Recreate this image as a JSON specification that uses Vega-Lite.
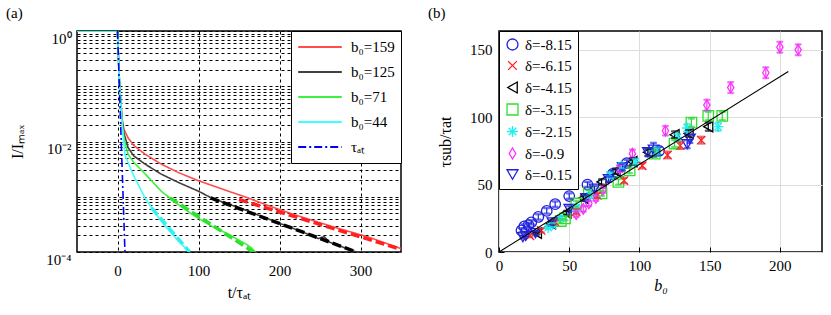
{
  "$schema": "https://vega.github.io/schema/vega-lite/v6.json",
  "padding": {"left": 5, "top": 4, "right": 10, "bottom": 5},
  "spacing": 98,
  "bounds": "flush",
  "resolve": {
    "scale": {"color": "independent", "strokeDash": "independent", "shape": "independent", "stroke": "independent", "x": "independent", "y": "independent"},
    "legend": {"color": "independent", "strokeDash": "independent", "shape": "independent", "stroke": "independent"}
  },
  "datasets": {
    "curves": [
      {"s": "b₀=159", "t": -50, "I": 1}, {"s": "b₀=159", "t": 0, "I": 1}, {"s": "b₀=159", "t": 2, "I": 0.158}, {"s": "b₀=159", "t": 4, "I": 0.05}, {"s": "b₀=159", "t": 6, "I": 0.024}, {"s": "b₀=159", "t": 8, "I": 0.0166}, {"s": "b₀=159", "t": 13, "I": 0.0117}, {"s": "b₀=159", "t": 20, "I": 0.0085}, {"s": "b₀=159", "t": 34, "I": 0.0059}, {"s": "b₀=159", "t": 54, "I": 0.0039}, {"s": "b₀=159", "t": 75, "I": 0.00275}, {"s": "b₀=159", "t": 100, "I": 0.00195}, {"s": "b₀=159", "t": 137, "I": 0.00126}, {"s": "b₀=159", "t": 157, "I": 0.001}, {"s": "b₀=159", "t": 190, "I": 0.00066}, {"s": "b₀=159", "t": 219, "I": 0.00047}, {"s": "b₀=159", "t": 268, "I": 0.00028}, {"s": "b₀=159", "t": 310, "I": 0.000186}, {"s": "b₀=159", "t": 350, "I": 0.000115},
      {"s": "b₀=125", "t": -50, "I": 1}, {"s": "b₀=125", "t": 0, "I": 1}, {"s": "b₀=125", "t": 2, "I": 0.158}, {"s": "b₀=125", "t": 4, "I": 0.05}, {"s": "b₀=125", "t": 6, "I": 0.022}, {"s": "b₀=125", "t": 8, "I": 0.0141}, {"s": "b₀=125", "t": 13, "I": 0.0078}, {"s": "b₀=125", "t": 20, "I": 0.0055}, {"s": "b₀=125", "t": 34, "I": 0.0039}, {"s": "b₀=125", "t": 54, "I": 0.00257}, {"s": "b₀=125", "t": 75, "I": 0.00182}, {"s": "b₀=125", "t": 100, "I": 0.00126}, {"s": "b₀=125", "t": 116, "I": 0.00095}, {"s": "b₀=125", "t": 157, "I": 0.00058}, {"s": "b₀=125", "t": 198, "I": 0.00034}, {"s": "b₀=125", "t": 227, "I": 0.000235}, {"s": "b₀=125", "t": 248, "I": 0.000175}, {"s": "b₀=125", "t": 255, "I": 0.00019}, {"s": "b₀=125", "t": 262, "I": 0.00015}, {"s": "b₀=125", "t": 280, "I": 0.00012}, {"s": "b₀=125", "t": 295, "I": 0.0001},
      {"s": "b₀=71", "t": -50, "I": 1}, {"s": "b₀=71", "t": 0, "I": 1}, {"s": "b₀=71", "t": 2, "I": 0.158}, {"s": "b₀=71", "t": 4, "I": 0.05}, {"s": "b₀=71", "t": 6, "I": 0.02}, {"s": "b₀=71", "t": 8, "I": 0.0112}, {"s": "b₀=71", "t": 13, "I": 0.0059}, {"s": "b₀=71", "t": 20, "I": 0.0042}, {"s": "b₀=71", "t": 34, "I": 0.0026}, {"s": "b₀=71", "t": 54, "I": 0.00126}, {"s": "b₀=71", "t": 75, "I": 0.00072}, {"s": "b₀=71", "t": 95, "I": 0.00045}, {"s": "b₀=71", "t": 116, "I": 0.000295}, {"s": "b₀=71", "t": 137, "I": 0.00021}, {"s": "b₀=71", "t": 160, "I": 0.000135}, {"s": "b₀=71", "t": 165, "I": 0.00012}, {"s": "b₀=71", "t": 170, "I": 0.0001},
      {"s": "b₀=44", "t": -50, "I": 1}, {"s": "b₀=44", "t": 0, "I": 1}, {"s": "b₀=44", "t": 2, "I": 0.158}, {"s": "b₀=44", "t": 4, "I": 0.05}, {"s": "b₀=44", "t": 6, "I": 0.0178}, {"s": "b₀=44", "t": 9, "I": 0.0059}, {"s": "b₀=44", "t": 15, "I": 0.00355}, {"s": "b₀=44", "t": 21, "I": 0.00224}, {"s": "b₀=44", "t": 34, "I": 0.00095}, {"s": "b₀=44", "t": 54, "I": 0.00036}, {"s": "b₀=44", "t": 75, "I": 0.000158}, {"s": "b₀=44", "t": 89, "I": 0.0001},
      {"s": "τₐₜ", "t": 0, "I": 1}, {"s": "τₐₜ", "t": 9.21, "I": 0.0001}
    ],
    "fits": [
      {"f": "159", "t": 150, "I": 0.00089}, {"f": "159", "t": 350, "I": 0.000112},
      {"f": "125", "t": 115, "I": 0.00095}, {"f": "125", "t": 295, "I": 0.0001},
      {"f": "71", "t": 65, "I": 0.00095}, {"f": "71", "t": 168, "I": 0.0001},
      {"f": "44", "t": 42, "I": 0.00063}, {"f": "44", "t": 89, "I": 0.0001}
    ],
    "points": [
      {"d": "δ=-8.15", "b": 16, "tau": 16, "lo": 14.5, "hi": 17.5}, {"d": "δ=-8.15", "b": 18, "tau": 19, "lo": 17.5, "hi": 20.5}, {"d": "δ=-8.15", "b": 21, "tau": 20, "lo": 18.5, "hi": 21.5}, {"d": "δ=-8.15", "b": 23, "tau": 22, "lo": 20.5, "hi": 23.5}, {"d": "δ=-8.15", "b": 28, "tau": 26, "lo": 24, "hi": 28}, {"d": "δ=-8.15", "b": 34, "tau": 30.5, "lo": 28.5, "hi": 32.5}, {"d": "δ=-8.15", "b": 40, "tau": 35.5, "lo": 33.5, "hi": 37.5}, {"d": "δ=-8.15", "b": 50, "tau": 41.5, "lo": 39.5, "hi": 43.5}, {"d": "δ=-8.15", "b": 63, "tau": 50, "lo": 48, "hi": 52}, {"d": "δ=-8.15", "b": 81, "tau": 58, "lo": 55.5, "hi": 60.5}, {"d": "δ=-8.15", "b": 91, "tau": 66, "lo": 63.5, "hi": 68.5}, {"d": "δ=-8.15", "b": 114, "tau": 75, "lo": 72, "hi": 78},
      {"d": "δ=-6.15", "b": 22, "tau": 12, "lo": 11, "hi": 13}, {"d": "δ=-6.15", "b": 30, "tau": 16, "lo": 14.5, "hi": 17.5}, {"d": "δ=-6.15", "b": 40, "tau": 22, "lo": 20.5, "hi": 23.5}, {"d": "δ=-6.15", "b": 55, "tau": 30, "lo": 28, "hi": 32}, {"d": "δ=-6.15", "b": 70, "tau": 42, "lo": 40, "hi": 44}, {"d": "δ=-6.15", "b": 89, "tau": 53, "lo": 51, "hi": 55}, {"d": "δ=-6.15", "b": 102, "tau": 64, "lo": 62, "hi": 66}, {"d": "δ=-6.15", "b": 120, "tau": 72, "lo": 69.5, "hi": 74.5}, {"d": "δ=-6.15", "b": 129, "tau": 79, "lo": 76.5, "hi": 81.5}, {"d": "δ=-6.15", "b": 144, "tau": 83, "lo": 80.5, "hi": 85.5},
      {"d": "δ=-4.15", "b": 27, "tau": 14, "lo": 13, "hi": 15}, {"d": "δ=-4.15", "b": 37, "tau": 21, "lo": 19.5, "hi": 22.5}, {"d": "δ=-4.15", "b": 48, "tau": 29, "lo": 27.5, "hi": 30.5}, {"d": "δ=-4.15", "b": 60, "tau": 40, "lo": 38, "hi": 42}, {"d": "δ=-4.15", "b": 73, "tau": 52, "lo": 50, "hi": 54}, {"d": "δ=-4.15", "b": 83, "tau": 60, "lo": 58, "hi": 62}, {"d": "δ=-4.15", "b": 95, "tau": 67, "lo": 64.5, "hi": 69.5}, {"d": "δ=-4.15", "b": 106, "tau": 74, "lo": 71.5, "hi": 76.5}, {"d": "δ=-4.15", "b": 125, "tau": 87, "lo": 84.5, "hi": 89.5}, {"d": "δ=-4.15", "b": 135, "tau": 88, "lo": 85.5, "hi": 90.5}, {"d": "δ=-4.15", "b": 149, "tau": 93, "lo": 90, "hi": 96},
      {"d": "δ=-3.15", "b": 44, "tau": 23, "lo": 21.5, "hi": 24.5}, {"d": "δ=-3.15", "b": 47, "tau": 25, "lo": 23.5, "hi": 26.5}, {"d": "δ=-3.15", "b": 55, "tau": 36, "lo": 34, "hi": 38}, {"d": "δ=-3.15", "b": 64, "tau": 44, "lo": 42, "hi": 46}, {"d": "δ=-3.15", "b": 73, "tau": 43.5, "lo": 41.5, "hi": 45.5}, {"d": "δ=-3.15", "b": 85, "tau": 52, "lo": 50, "hi": 54}, {"d": "δ=-3.15", "b": 93, "tau": 60.5, "lo": 58.5, "hi": 62.5}, {"d": "δ=-3.15", "b": 111, "tau": 73, "lo": 70.5, "hi": 75.5}, {"d": "δ=-3.15", "b": 125, "tau": 80.5, "lo": 78, "hi": 83}, {"d": "δ=-3.15", "b": 137, "tau": 96, "lo": 93, "hi": 99}, {"d": "δ=-3.15", "b": 149, "tau": 101, "lo": 98, "hi": 104}, {"d": "δ=-3.15", "b": 159, "tau": 101, "lo": 98, "hi": 104},
      {"d": "δ=-2.15", "b": 35, "tau": 18, "lo": 17, "hi": 19}, {"d": "δ=-2.15", "b": 38, "tau": 20, "lo": 18.5, "hi": 21.5}, {"d": "δ=-2.15", "b": 44, "tau": 25, "lo": 23.5, "hi": 26.5}, {"d": "δ=-2.15", "b": 55, "tau": 33, "lo": 31, "hi": 35}, {"d": "δ=-2.15", "b": 65, "tau": 42, "lo": 40, "hi": 44}, {"d": "δ=-2.15", "b": 79, "tau": 57, "lo": 55, "hi": 59}, {"d": "δ=-2.15", "b": 87, "tau": 64, "lo": 62, "hi": 66}, {"d": "δ=-2.15", "b": 97, "tau": 67, "lo": 65, "hi": 69}, {"d": "δ=-2.15", "b": 112, "tau": 75, "lo": 72.5, "hi": 77.5}, {"d": "δ=-2.15", "b": 127, "tau": 85, "lo": 82.5, "hi": 87.5}, {"d": "δ=-2.15", "b": 134, "tau": 92, "lo": 89, "hi": 95}, {"d": "δ=-2.15", "b": 156, "tau": 93, "lo": 90, "hi": 96},
      {"d": "δ=-0.9", "b": 55, "tau": 28, "lo": 26, "hi": 30}, {"d": "δ=-0.9", "b": 60, "tau": 32, "lo": 30, "hi": 34}, {"d": "δ=-0.9", "b": 64, "tau": 36, "lo": 34, "hi": 38}, {"d": "δ=-0.9", "b": 69, "tau": 40, "lo": 38, "hi": 42}, {"d": "δ=-0.9", "b": 74, "tau": 46, "lo": 44, "hi": 48}, {"d": "δ=-0.9", "b": 86, "tau": 62, "lo": 59.5, "hi": 64.5}, {"d": "δ=-0.9", "b": 95, "tau": 73, "lo": 70, "hi": 76}, {"d": "δ=-0.9", "b": 118.5, "tau": 90, "lo": 86.5, "hi": 93.5}, {"d": "δ=-0.9", "b": 148, "tau": 109, "lo": 105, "hi": 113}, {"d": "δ=-0.9", "b": 165, "tau": 122, "lo": 118, "hi": 126}, {"d": "δ=-0.9", "b": 190, "tau": 133, "lo": 129, "hi": 137}, {"d": "δ=-0.9", "b": 200, "tau": 152, "lo": 148, "hi": 156}, {"d": "δ=-0.9", "b": 213, "tau": 150, "lo": 146, "hi": 154},
      {"d": "δ=-0.15", "b": 17, "tau": 11, "lo": 10, "hi": 12}, {"d": "δ=-0.15", "b": 19, "tau": 12, "lo": 11, "hi": 13}, {"d": "δ=-0.15", "b": 26, "tau": 14, "lo": 12.5, "hi": 15.5}, {"d": "δ=-0.15", "b": 38, "tau": 22, "lo": 20.5, "hi": 23.5}, {"d": "δ=-0.15", "b": 50, "tau": 32, "lo": 30, "hi": 34}, {"d": "δ=-0.15", "b": 62, "tau": 40, "lo": 38, "hi": 42}, {"d": "δ=-0.15", "b": 68, "tau": 47, "lo": 45, "hi": 49}, {"d": "δ=-0.15", "b": 78, "tau": 54, "lo": 52, "hi": 56}, {"d": "δ=-0.15", "b": 88, "tau": 63, "lo": 60.5, "hi": 65.5}, {"d": "δ=-0.15", "b": 106, "tau": 74, "lo": 71, "hi": 77}, {"d": "δ=-0.15", "b": 110, "tau": 76, "lo": 71, "hi": 81}, {"d": "δ=-0.15", "b": 134, "tau": 80, "lo": 77, "hi": 83}, {"d": "δ=-0.15", "b": 136, "tau": 84, "lo": 81, "hi": 87}
    ],
    "fitline": [{"b": 0, "tau": 0}, {"b": 206, "tau": 134}]
  },
  "hconcat": [
    {
      "title": {"text": "(a)"},
      "width": 324,
      "height": 221,
      "layer": [
        {
          "data": {"name": "curves"},
          "mark": {"type": "line", "strokeWidth": 1.6, "clip": true},
          "encoding": {
            "x": {"field": "t", "type": "quantitative", "title": "t/τₐₜ", "scale": {"domain": [-50, 350], "nice": false},
              "axis": {"values": [0, 100, 200, 300], "grid": true, "gridDash": [3, 3], "gridColor": "black", "gridOpacity": 1, "gridWidth": 1, "ticks": false, "labelPadding": 11, "titlePadding": 6, "labelFlush": false}},
            "y": {"field": "I", "type": "quantitative", "title": "I/Iₘₐₓ", "scale": {"type": "log", "domain": [0.0001, 1], "nice": false},
              "axis": {"values": [0.0001, 0.0002, 0.0003, 0.0004, 0.0005, 0.0006, 0.0007, 0.0008, 0.0009, 0.001, 0.002, 0.003, 0.004, 0.005, 0.006, 0.007, 0.008, 0.009, 0.01, 0.02, 0.03, 0.04, 0.05, 0.06, 0.07, 0.08, 0.09, 0.1, 0.2, 0.3, 0.4, 0.5, 0.6, 0.7, 0.8, 0.9, 1],
                "labelExpr": "datum.value == 1 ? '10⁰' : datum.value == 0.01 ? '10⁻²' : datum.value == 0.0001 ? '10⁻⁴' : ''",
                "labelOverlap": false, "labelFlush": false, "labelBaseline": "top", "grid": true, "gridDash": [3, 3], "gridColor": "black", "gridOpacity": 1, "gridWidth": 1, "ticks": false, "labelPadding": 6, "titlePadding": 20}},
            "color": {"field": "s", "type": "nominal",
              "scale": {"domain": ["b₀=159", "b₀=125", "b₀=71", "b₀=44", "τₐₜ"], "range": ["#ff4d4d", "#404040", "#40f040", "#40ffff", "#0000ff"]},
              "legend": {"title": null, "orient": "top-right", "offset": 0, "fillColor": "white", "strokeColor": "black", "padding": 6, "symbolType": "stroke", "symbolSize": 1900, "symbolStrokeWidth": 2, "labelFontSize": 15, "labelOffset": 8, "rowPadding": 5, "clipHeight": 20}},
            "strokeDash": {"field": "s", "type": "nominal",
              "scale": {"domain": ["b₀=159", "b₀=125", "b₀=71", "b₀=44", "τₐₜ"], "range": [[1, 0], [1, 0], [1, 0], [1, 0], [8, 3, 2, 3]]},
              "legend": {"title": null, "orient": "top-right", "offset": 0, "fillColor": "white", "strokeColor": "black", "padding": 6, "symbolType": "stroke", "symbolSize": 1900, "symbolStrokeWidth": 2, "labelFontSize": 15, "labelOffset": 8, "rowPadding": 5, "clipHeight": 20}}
          }
        },
        {
          "data": {"name": "fits"},
          "mark": {"type": "line", "strokeWidth": 3.5, "strokeDash": [9, 4], "clip": true},
          "encoding": {
            "x": {"field": "t", "type": "quantitative", "title": "t/τₐₜ"},
            "y": {"field": "I", "type": "quantitative", "title": "I/Iₘₐₓ"},
            "stroke": {"field": "f", "type": "nominal", "scale": {"domain": ["159", "125", "71", "44"], "range": ["#ff2020", "#000000", "#30e030", "#30f0f0"]}, "legend": null}
          }
        }
      ]
    },
    {
      "title": {"text": "(b)"},
      "width": 323,
      "height": 221,
      "layer": [
        {
          "data": {"name": "points"},
          "mark": {"type": "point", "filled": false, "strokeWidth": 1.3, "size": 110, "opacity": 1},
          "encoding": {
            "x": {"field": "b", "type": "quantitative", "title": "b₀", "scale": {"domain": [0, 230], "nice": false},
              "axis": {"titleFontStyle": "italic", "values": [0, 50, 100, 150, 200], "tickSize": -5, "tickColor": "black", "labelPadding": 11, "titlePadding": 4, "labelFlush": false}},
            "y": {"field": "tau", "type": "quantitative", "title": "τsub/τat", "scale": {"domain": [0, 164], "nice": false},
              "axis": {"values": [0, 50, 100, 150], "tickSize": -5, "tickColor": "black", "labelPadding": 12, "titlePadding": 16, "labelFlush": false}},
            "color": {"field": "d", "type": "nominal",
              "scale": {"domain": ["δ=-8.15", "δ=-6.15", "δ=-4.15", "δ=-3.15", "δ=-2.15", "δ=-0.9", "δ=-0.15"], "range": ["#2020e0", "#ff2020", "#000000", "#30e030", "#20f0f0", "#ff30ff", "#2020e0"]},
              "legend": {"title": null, "orient": "top-left", "offset": 0, "fillColor": "white", "strokeColor": "black", "padding": 6, "symbolSize": 120, "symbolStrokeWidth": 1.3, "labelFontSize": 15, "labelOffset": 5, "rowPadding": 5}},
            "shape": {"field": "d", "type": "nominal",
              "scale": {"domain": ["δ=-8.15", "δ=-6.15", "δ=-4.15", "δ=-3.15", "δ=-2.15", "δ=-0.9", "δ=-0.15"], "range": ["circle", "M-0.8,-0.8L0.8,0.8M0.8,-0.8L-0.8,0.8", "triangle-left", "square", "M-1,0L1,0M0,-1L0,1M-0.7,-0.7L0.7,0.7M0.7,-0.7L-0.7,0.7", "M0,-1L0.6,0L0,1L-0.6,0Z", "triangle-down"]},
              "legend": {"title": null, "orient": "top-left", "offset": 0, "fillColor": "white", "strokeColor": "black", "padding": 6, "symbolSize": 120, "symbolStrokeWidth": 1.3, "labelFontSize": 15, "labelOffset": 5, "rowPadding": 5}}
          }
        },
        {
          "data": {"name": "points"},
          "mark": {"type": "rule", "strokeWidth": 1.2},
          "encoding": {
            "x": {"field": "b", "type": "quantitative", "title": "b₀"},
            "y": {"field": "lo", "type": "quantitative", "title": "τsub/τat"},
            "y2": {"field": "hi"},
            "stroke": {"field": "d", "type": "nominal", "scale": {"domain": ["δ=-8.15", "δ=-6.15", "δ=-4.15", "δ=-3.15", "δ=-2.15", "δ=-0.9", "δ=-0.15"], "range": ["#2020e0", "#ff2020", "#000000", "#30e030", "#20f0f0", "#ff30ff", "#2020e0"]}, "legend": null}
          }
        },
        {
          "data": {"name": "points"},
          "mark": {"type": "tick", "thickness": 1.2, "size": 6, "orient": "horizontal"},
          "encoding": {
            "x": {"field": "b", "type": "quantitative", "title": "b₀"},
            "y": {"field": "lo", "type": "quantitative", "title": "τsub/τat"},
            "stroke": {"field": "d", "type": "nominal", "legend": null}
          }
        },
        {
          "data": {"name": "points"},
          "mark": {"type": "tick", "thickness": 1.2, "size": 6, "orient": "horizontal"},
          "encoding": {
            "x": {"field": "b", "type": "quantitative", "title": "b₀"},
            "y": {"field": "hi", "type": "quantitative", "title": "τsub/τat"},
            "stroke": {"field": "d", "type": "nominal", "legend": null}
          }
        },
        {
          "data": {"name": "fitline"},
          "mark": {"type": "line", "color": "black", "strokeWidth": 1.2},
          "encoding": {
            "x": {"field": "b", "type": "quantitative", "title": "b₀"},
            "y": {"field": "tau", "type": "quantitative", "title": "τsub/τat"}
          }
        }
      ]
    }
  ],
  "config": {
    "font": "Liberation Serif",
    "background": "white",
    "view": {"stroke": "black", "strokeWidth": 1.5},
    "axis": {"labelFontSize": 15, "titleFontSize": 16, "labelColor": "black", "titleColor": "black", "titleFontWeight": "normal", "domain": false, "labelFont": "Liberation Serif", "titleFont": "Liberation Serif"},
    "legend": {"labelFont": "Liberation Serif", "labelColor": "black", "labelLimit": 200},
    "title": {"fontSize": 15, "fontWeight": "normal", "anchor": "start", "frame": "group", "dx": -71, "offset": 10, "font": "Liberation Serif", "color": "black"}
  }
}
